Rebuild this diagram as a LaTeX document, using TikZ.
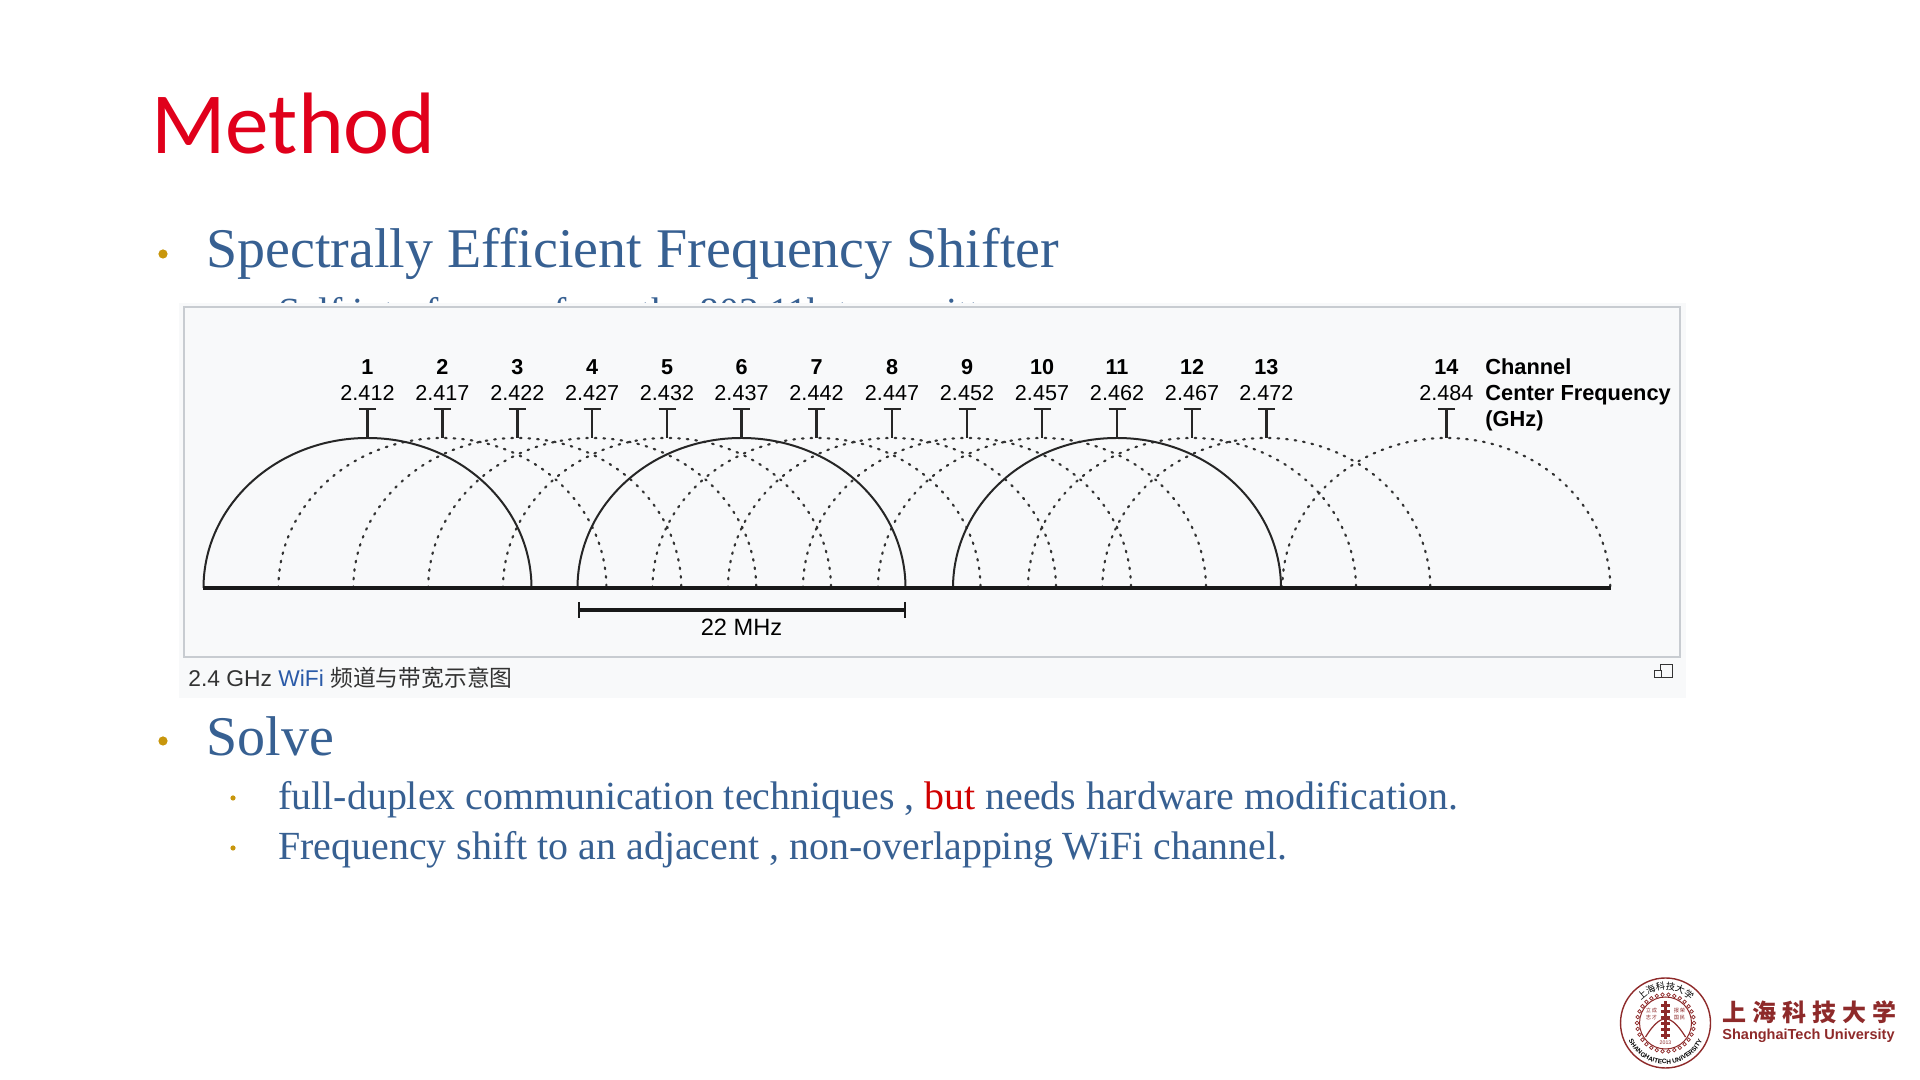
\documentclass[tikz,border=0pt]{standalone}
\usepackage{fontspec}
\setmainfont{Liberation Serif}
\newfontfamily\arialf{Liberation Sans}
\newfontfamily\calibf{Carlito}
\newfontfamily\cjk{Noto Sans CJK SC}
\usepackage{xcolor}
\usetikzlibrary{arrows.meta,positioning,calc,decorations.text}
\definecolor{slideblue}{HTML}{376092}
\definecolor{slidered}{HTML}{E0001B}
\definecolor{butred}{HTML}{D00000}
\definecolor{bulletgold}{HTML}{C8960C}
\definecolor{panelfill}{HTML}{F8F9FA}
\definecolor{panelline}{HTML}{C8CCD1}
\definecolor{capgray}{HTML}{333333}
\definecolor{wikiblue}{HTML}{2A5AA8}
\definecolor{sealred}{HTML}{8E2A2A}

\begin{document}
\begin{tikzpicture}[
    x=0.5pt, y=0.5pt,
    headtext/.style={anchor=base west, inner sep=0pt, text=slideblue, font=\fontsize{28}{32}\selectfont},
    subtext/.style={anchor=base west, inner sep=0pt, text=slideblue, font=\fontsize{19.95}{24}\selectfont},
    bighead/.style={circle, fill=bulletgold, inner sep=0pt, minimum size=4.6pt},
    smallhead/.style={circle, fill=bulletgold, inner sep=0pt, minimum size=2.6pt},
    chanlabel/.style={inner sep=0pt, anchor=base, font=\arialf\bfseries\fontsize{10.8}{12}\selectfont},
    freqlabel/.style={inner sep=0pt, anchor=base, font=\arialf\fontsize{10.8}{12}\selectfont},
    sidelabel/.style={inner sep=0pt, anchor=base west, font=\arialf\bfseries\fontsize{10.9}{12}\selectfont},
    teemark/.style={{Bar[width=8.5pt,line width=1.1pt]}-, line width=1.2pt, black!85},
    solidarc/.style={line width=1pt, black!85},
    dotarc/.style={line width=1.1pt, black!80, line cap=round, dash pattern=on 0.8pt off 3.5pt}
]
    \useasboundingbox (0,0) rectangle (1920,1080);
    \fill[white] (0,0) rectangle (1920,1080);

    % Title and first heading
    \node[anchor=base west, inner sep=0pt, text=slidered, font=\calibf\fontsize{43.6}{48}\selectfont] (title) at (151,926) {Method};
    \node[bighead] (bul1) at (163,826) {};
    \node[headtext] (head1) at (206,812) {Spectrally Efficient Frequency Shifter};
    \node[subtext] (hidden) at (278,754) {Self interference from the 802.11b transmitter};

    % Panel
    \fill[panelfill] (179,382) rectangle (1686,777);
    \draw[panelline, line width=1pt, fill=panelfill] (184,423) rectangle (1680,773);

    % Channels
    \foreach \n/\f/\cx in {1/2.412/367.5, 2/2.417/442.4, 3/2.422/517.3, 4/2.427/592.2, 5/2.432/667, 6/2.437/741.5, 7/2.442/816.5, 8/2.447/892, 9/2.452/967, 10/2.457/1042, 11/2.462/1117, 12/2.467/1192, 13/2.472/1266.3, 14/2.484/1446.3}{
        \node[chanlabel] (chan\n) at (\cx,705) {\n};
        \node[freqlabel] (freq\n) at (\cx,679) {\f};
        \coordinate (ttop\n) at (\cx,672);
        \coordinate (tpeak\n) at (\cx,642);
        \draw[teemark] (ttop\n) -- (tpeak\n);
    }

    % Spectrum arcs
    \foreach \cx in {442.4,517.3,592.2,667,816.5,892,967,1042,1192,1266.3,1446.3}{
        \draw[dotarc] ({\cx-164},492) arc[start angle=180, end angle=0, x radius=164, y radius=150];
    }
    \foreach \cx in {367.5,741.5,1117}{
        \draw[solidarc] ({\cx-164},492) arc[start angle=180, end angle=0, x radius=164, y radius=150];
    }
    \coordinate (basel) at (203,492);
    \coordinate (baser) at (1611,492);
    \draw[line width=2pt, black!90] (basel) -- (baser);

    % Bandwidth bracket
    \coordinate (brl) at (577.5,470);
    \coordinate (brr) at (905.5,470);
    \draw[{Bar[width=8pt,line width=1pt]}-{Bar[width=8pt,line width=1pt]}, line width=1.6pt, black!90] (brl) -- (brr);
    \node[inner sep=0pt, anchor=base, font=\arialf\fontsize{11.8}{13}\selectfont] (bwlabel) at (741.5,444) {22 MHz};

    % Side labels
    \node[sidelabel] (sidechan) at (1485,705) {Channel};
    \node[sidelabel] (sidefreq) at (1485,679) {Center Frequency};
    \node[sidelabel] (sideghz) at (1485,653) {(GHz)};

    % Caption
    \node[anchor=base west, inner sep=0pt, text=capgray, font=\arialf\fontsize{11.4}{13}\selectfont] (caption) at (188,393) {2.4 GHz {\color{wikiblue}WiFi} {\cjk 频道与带宽示意图}};
    \draw[capgray, line width=0.5pt, fill=panelfill] (1660,402) rectangle (1672.5,415);
    \draw[capgray, line width=0.5pt, fill=panelfill] (1654,402) rectangle (1661,409);

    % Solve
    \node[bighead] (bul2) at (163,339) {};
    \node[headtext] (head2) at (206,324) {Solve};
    \node[smallhead] (bul3) at (233,282) {};
    \node[subtext] (sub1) at (278,270) {full-duplex communication techniques , {\color{butred}but} needs hardware modification.};
    \node[smallhead] (bul4) at (233,232) {};
    \node[subtext] (sub2) at (278,220) {Frequency shift to an adjacent , non-overlapping WiFi channel.};

    % Logo
    \begin{scope}[shift={(1665.5,57)}, sealred]
        \draw[line width=0.7pt] (0,0) circle (45);
        \draw[line width=0.5pt] (0,0) circle (26);
        \foreach \a in {0,12,...,348}{
            \draw[line width=0.35pt] (\a:28.5) circle (1.8);
        }
        \path[postaction={decorate}, decoration={text along path, text align=center, text={|\cjk\fontsize{4.6}{5}\selectfont|上海科技大学}}]
            (160:33) arc[start angle=160, end angle=20, radius=33];
        \path[postaction={decorate}, decoration={text along path, text align=center, text={|\arialf\bfseries\fontsize{3.2}{4}\selectfont|SHANGHAITECH UNIVERSITY}}]
            (185:41) arc[start angle=185, end angle=355, radius=41];
        \fill (-1.5,-16) rectangle (1.5,22);
        \foreach \y in {-14,-8,-2,4,10,16}{
            \fill (-4.5,\y) rectangle (4.5,\y+3);
        }
        \draw[line width=0.6pt] (-20,-14) .. controls (-10,2) and (-4,4) .. (0,4);
        \draw[line width=0.6pt] (20,-14) .. controls (10,2) and (4,4) .. (0,4);
        \node[inner sep=0pt, font=\cjk\fontsize{2.6}{3.4}\selectfont, align=center] (motl) at (-14,9) {立\,成\\志\,才};
        \node[inner sep=0pt, font=\cjk\fontsize{2.6}{3.4}\selectfont, align=center] (motr) at (14,9) {报\,荣\\国\,民};
        \node[inner sep=0pt, font=\arialf\fontsize{2.6}{3}\selectfont] (year) at (0,-20) {2013};
    \end{scope}
    \node[anchor=base west, inner sep=0pt, text=sealred, font=\cjk\bfseries\fontsize{12}{13}\selectfont] (logocn) at (1722,58) {上\kern3pt 海\kern3pt 科\kern3pt 技\kern3pt 大\kern3pt 学};
    \node[anchor=base west, inner sep=0pt, text=sealred, font=\arialf\bfseries\fontsize{7.25}{8}\selectfont] (logoen) at (1722,40) {ShanghaiTech University};
\end{tikzpicture}
\end{document}
